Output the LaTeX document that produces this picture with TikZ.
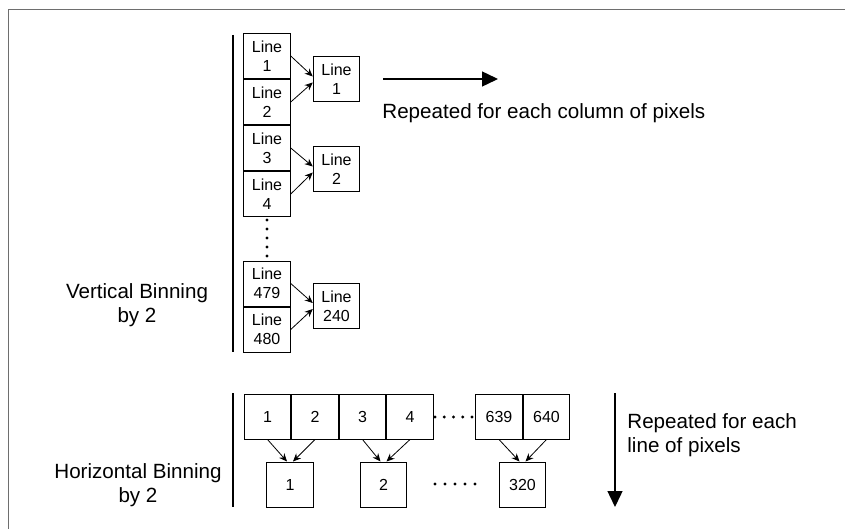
\documentclass[tikz,border=0pt]{standalone}
\usepackage{fontspec}
\setmainfont{Liberation Sans}
\usetikzlibrary{arrows.meta,positioning}
\definecolor{frameGray}{RGB}{110,110,110}

\begin{document}
\begin{tikzpicture}[x=0.5pt, y=-0.5pt, >={Stealth[length=4pt,width=3.5pt]},
  cell/.style={draw, line width=0.5pt, minimum width=23.25pt, minimum height=22.5pt,
    inner sep=0pt, align=center, font=\fontsize{8}{9.5}\selectfont},
  bigtext/.style={font=\fontsize{10.3}{12}\selectfont, inner sep=0pt},
  bigarrow/.style={-{Triangle[length=8pt,width=7.5pt]}, line width=0.7pt},
  bar/.style={line width=1pt}]
\useasboundingbox (0,0) rectangle (845,529);
\draw[frameGray, line width=0.75pt] (8.5,529) -- (8.5,9.5) -- (845,9.5);

% vertical binning
\draw[bar] (233,35) -- (233,352);
\node[bigtext, align=center] (vlabel) at (137,305) {Vertical Binning\\by 2};
\node[cell] (l1) at (267,56) {Line\\1};
\node[cell, below=0pt of l1] (l2) {Line\\2};
\node[cell, below=0pt of l2] (l3) {Line\\3};
\node[cell, below=0pt of l3] (l4) {Line\\4};
\foreach \y in {220,229,...,256} \fill (267,\y) circle[radius=0.8pt];
\node[cell] (l479) at (267,283.5) {Line\\479};
\node[cell, below=0pt of l479] (l480) {Line\\480};
\node[cell] (v1) at (336.5,79.5) {Line\\1};
\node[cell] (v2) at (336.5,169.5) {Line\\2};
\node[cell] (v240) at (336.5,306) {Line\\240};
\draw[->] (l1.east) -- ([yshift=1.5pt]v1.west);
\draw[->] (l2.east) -- ([yshift=-1.5pt]v1.west);
\draw[->] (l3.east) -- ([yshift=1.5pt]v2.west);
\draw[->] (l4.east) -- ([yshift=-1.5pt]v2.west);
\draw[->] (l479.east) -- ([yshift=1.5pt]v240.west);
\draw[->] (l480.east) -- ([yshift=-1.5pt]v240.west);
\coordinate (colA) at (383,79);
\coordinate (colB) at (498,79);
\draw[bigarrow] (colA) -- (colB);
\node[bigtext, anchor=west] (coltext) at (382,113) {Repeated for each column of pixels};

% horizontal binning
\draw[bar] (233,393) -- (233,507);
\node[bigtext, align=center] (hlabel) at (138,485) {Horizontal Binning\\by 2};
\node[cell] (p1) at (267.5,416.5) {1};
\node[cell, right=0pt of p1] (p2) {2};
\node[cell, right=0pt of p2] (p3) {3};
\node[cell, right=0pt of p3] (p4) {4};
\node[cell] (p639) at (499,416.5) {639};
\node[cell, right=0pt of p639] (p640) {640};
\foreach \x in {435,444.25,...,473} \fill (\x,417) circle[radius=0.8pt];
\node[cell] (h1) at (290,484.5) {1};
\node[cell] (h2) at (383.5,484.5) {2};
\node[cell] (h320) at (522.5,484.5) {320};
\foreach \x in {435,445,...,476} \fill (\x,484) circle[radius=0.8pt];
\draw[->] (p1.south) -- ([xshift=-1.5pt]h1.north);
\draw[->] (p2.south) -- ([xshift=1.5pt]h1.north);
\draw[->] (p3.south) -- ([xshift=-1.5pt]h2.north);
\draw[->] (p4.south) -- ([xshift=1.5pt]h2.north);
\draw[->] (p639.south) -- ([xshift=-1.5pt]h320.north);
\draw[->] (p640.south) -- ([xshift=1.5pt]h320.north);
\coordinate (rowA) at (615,393);
\coordinate (rowB) at (615,507);
\draw[bigarrow] (rowA) -- (rowB);
\node[bigtext, anchor=west, align=left] (rowtext) at (627,435) {Repeated for each\\line of pixels};
\end{tikzpicture}
\end{document}
